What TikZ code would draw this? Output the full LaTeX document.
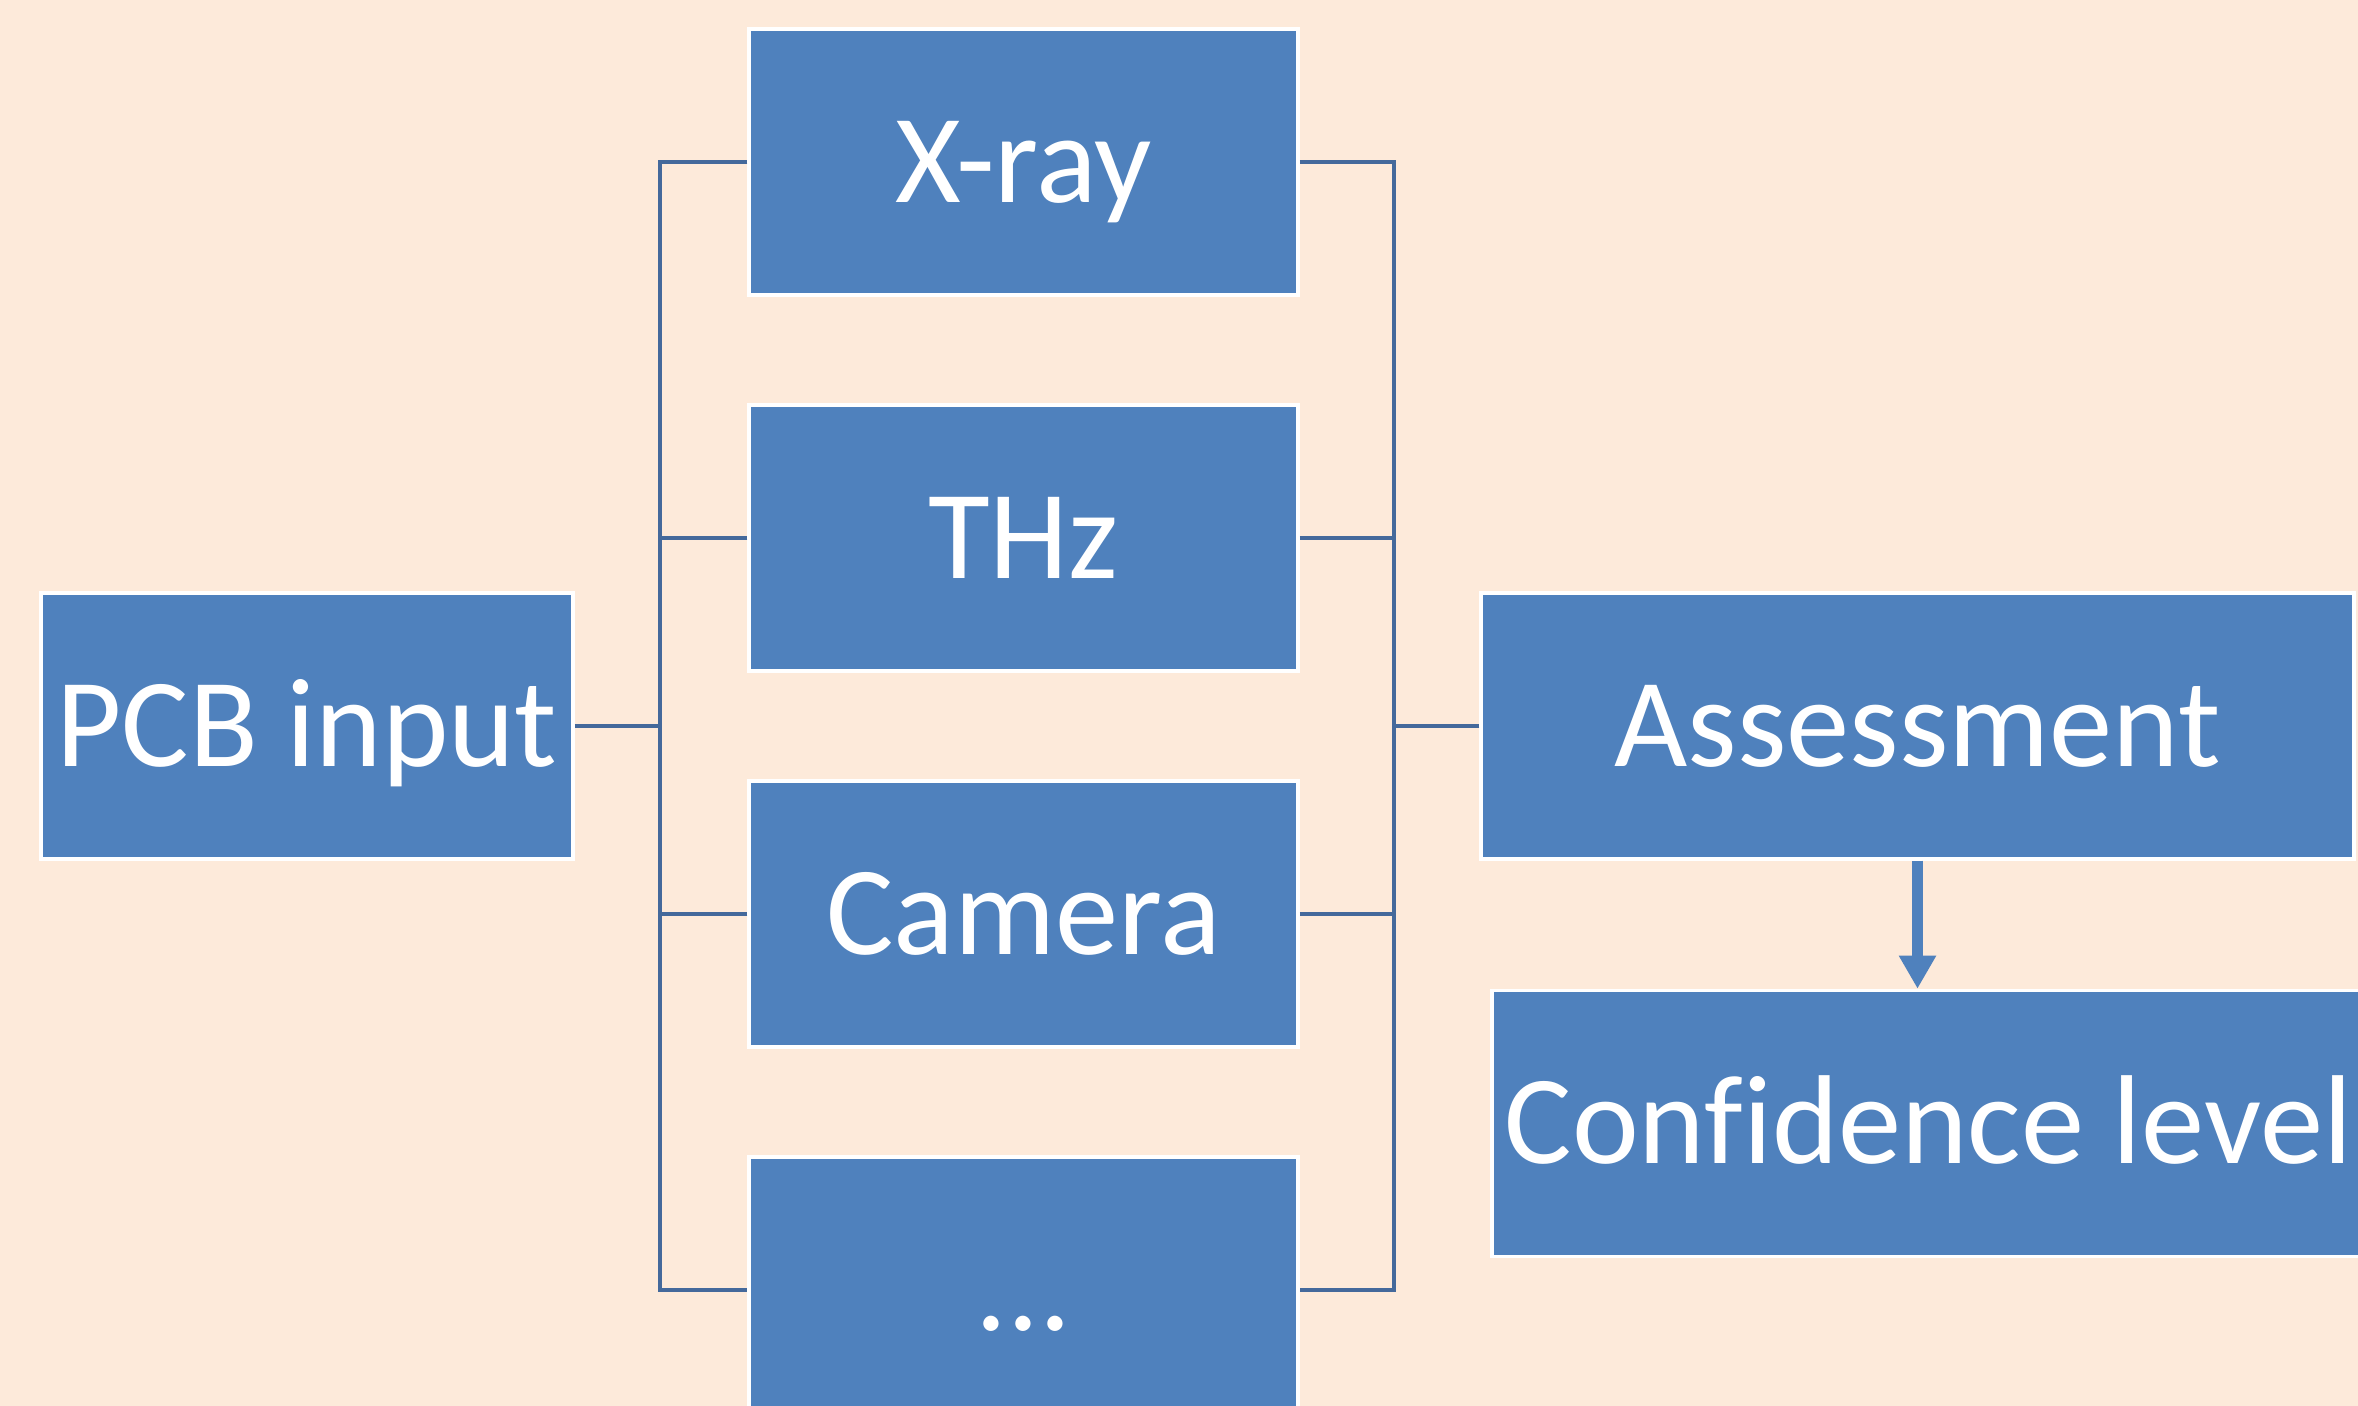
\documentclass[tikz,border=0pt]{standalone}
\usepackage{fontspec}
\setmainfont{Carlito}[Ligatures=NoCommon]
\usetikzlibrary{calc,arrows.meta}
\definecolor{peach}{HTML}{FDEADA}
\definecolor{boxblue}{HTML}{4F81BD}
\definecolor{busblue}{HTML}{44699B}
\def\drawbus{\draw[color=busblue, line width=1.3pt]}
\def\blocknode{\node[draw=white,line width=1pt,fill=boxblue,text=white,minimum width=5.49cm,minimum height=2.66cm,inner sep=0pt,text height=23pt,text depth=0pt,font=\fontsize{36}{43}\selectfont]}

\begin{document}
\begin{tikzpicture}
\clip (0,0) rectangle (23.58,14.06);
\fill[peach] (0,0) rectangle (23.58,14.06);
\coordinate (mid) at (10.235,6.80); % centre of the sensor column, level with the input

% ---------- the input
\blocknode[minimum width=5.32cm] (pcb) at ($ (mid) + (-7.165,0) $) {PCB input};

% ---------- sensor column
\blocknode (xray) at ($ (mid) + (0,5.64) $) {X-ray};
\blocknode (thz) at ($ (mid) + (0,1.88) $) {THz};
\blocknode (camera) at ($ (mid) - (0,1.88) $) {Camera};
\blocknode (more) at ($ (mid) - (0,5.64) $) {...};

% ---------- assessment and result
\blocknode[minimum width=8.73cm] (assess) at ($ (mid) + (8.94,0) $) {Assessment};
\blocknode[minimum width=8.73cm] (conf) at ($ (assess) + (0.11,-3.975) $) {Confidence level};

% the two vertical buses
\coordinate (lbus) at ($ (mid) + (-3.635,0) $);
\coordinate (rbus) at ($ (mid) + (3.705,0) $);

% left bus: input fans out to every sensor
\drawbus (pcb.east) -- (lbus);
\drawbus (xray.west) -- (xray.west -| lbus) -- (more.west -| lbus) -- (more.west);
\drawbus (thz.west) -- (thz.west -| lbus);
\drawbus (camera.west) -- (camera.west -| lbus);

% right bus: sensors gathered into the assessment
\drawbus (xray.east) -- (xray.east -| rbus) -- (more.east -| rbus) -- (more.east);
\drawbus (thz.east) -- (thz.east -| rbus);
\drawbus (camera.east) -- (camera.east -| rbus);
\drawbus (assess.west) -- (rbus);

\draw[boxblue, line width=0.11cm, -{Triangle[width=0.35cm,length=0.33cm]}] (assess.south) -- (assess.south |- conf.north);
\end{tikzpicture}
\end{document}
